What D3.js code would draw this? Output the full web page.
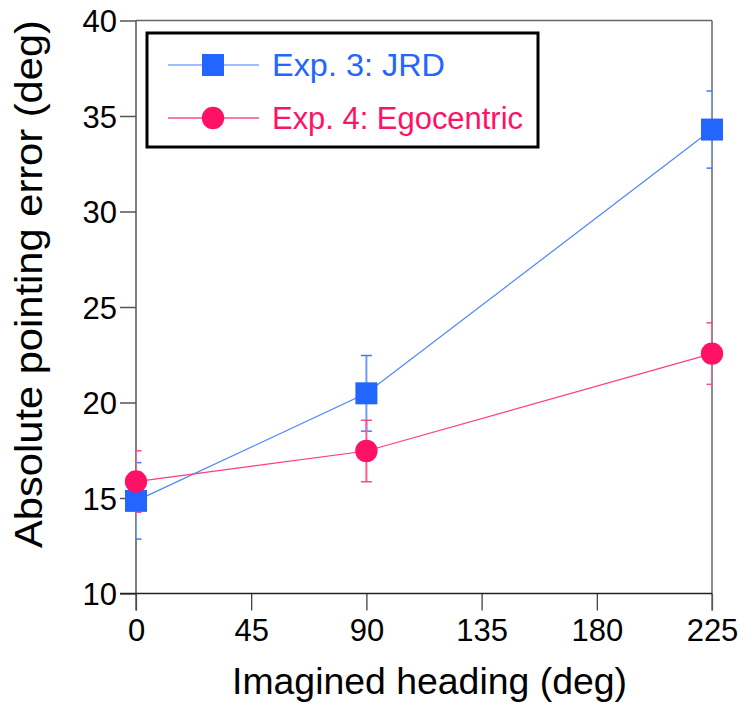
<!DOCTYPE html>
<html><head><meta charset="utf-8">
<script src="https://cdn.jsdelivr.net/npm/d3@7"></script>
<style>body{margin:0;background:#fff}svg{display:block;font-family:"Liberation Sans",Arial,sans-serif}</style>
</head><body><svg id="c" width="746" height="708"></svg>
<script>
const headings = [0, 90, 225];
const jrdMean = [14.85, 20.48, 34.29];
const jrdErr = [2.0, 1.98, 2.02];
const egoMean = [15.86, 17.46, 22.56];
const egoErr = [1.61, 1.61, 1.61];
const xTicks = [0, 45, 90, 135, 180, 225];
const yTicks = [10, 15, 20, 25, 30, 35, 40];
const seriesNames = ["Exp. 3: JRD", "Exp. 4: Egocentric"];

const svg = d3.select("#c");
const L = 136, R = 712, T = 20.5, B = 593.5;
const x = d3.scaleLinear().domain([0, 225]).range([L, R]);
const y = d3.scaleLinear().domain([10, 40]).range([B, T]);

const series = [
  {name: seriesNames[0], mean: jrdMean, err: jrdErr, color: "#2266ff", line: "#4a86ff", ebar: "#6f9dff", cap: "#3f7bff", legLine: "#7fa8ff", shape: "square", tl: 173},
  {name: seriesNames[1], mean: egoMean, err: egoErr, color: "#ff1166", line: "#ff3c80", ebar: "#ff5c95", cap: "#ff4a88", legLine: "#ff4d8a", shape: "circle", tl: 251}
];

svg.append("line").attr("x1", L).attr("x2", R).attr("y1", T).attr("y2", T).attr("stroke", "#666").attr("stroke-width", 1.5);

const yAxis = d3.axisLeft(y).tickValues(yTicks).tickSize(16).tickPadding(3);
const gy = svg.append("g").attr("transform", `translate(${L},0)`).call(yAxis);
gy.select(".domain").remove();
gy.selectAll(".tick line").attr("stroke", "#555").attr("stroke-width", 1.5);
gy.selectAll(".tick text").attr("font-size", 31).attr("fill", "#000").attr("dy", "0.36em");

const xAxis = d3.axisBottom(x).tickValues(xTicks).tickSize(17).tickPadding(8);
const gx = svg.append("g").attr("transform", `translate(0,${B})`).call(xAxis);
gx.select(".domain").remove();
gx.selectAll(".tick line").attr("stroke", "#333").attr("stroke-width", 1.2);
gx.selectAll(".tick text").attr("font-size", 31).attr("fill", "#000").attr("dy", "0.72em");

svg.append("line").attr("x1", L).attr("x2", L).attr("y1", T).attr("y2", B + 17).attr("stroke", "#555").attr("stroke-width", 1.5);
svg.append("line").attr("x1", R).attr("x2", R).attr("y1", T).attr("y2", B + 17).attr("stroke", "#666").attr("stroke-width", 1.5);
svg.append("line").attr("x1", L - 16).attr("x2", R).attr("y1", B).attr("y2", B).attr("stroke", "#222").attr("stroke-width", 1.5);

svg.append("text").attr("x", 429.5).attr("y", 694).attr("text-anchor", "middle")
  .attr("font-size", 37).attr("textLength", 395).attr("lengthAdjust", "spacingAndGlyphs")
  .text("Imagined heading (deg)");
svg.append("text").attr("transform", "translate(42,284) rotate(-90)").attr("text-anchor", "middle")
  .attr("font-size", 38).attr("textLength", 528).attr("lengthAdjust", "spacingAndGlyphs")
  .text("Absolute pointing error (deg)");

svg.append("clipPath").attr("id", "pc").append("rect").attr("x", L).attr("y", 0).attr("width", R - L).attr("height", 708);

const line = d3.line().x(d => x(d[0])).y(d => y(d[1]));
series.forEach(s => {
  const pts = headings.map((h, i) => [h, s.mean[i], s.err[i]]);
  const g = svg.append("g");
  const eg = g.append("g").attr("clip-path", "url(#pc)");
  pts.forEach(p => {
    eg.append("line").attr("x1", x(p[0])).attr("x2", x(p[0])).attr("y1", y(p[1] - p[2])).attr("y2", y(p[1] + p[2]))
      .attr("stroke", s.ebar).attr("stroke-width", 2);
    [p[1] - p[2], p[1] + p[2]].forEach(v => {
      eg.append("line").attr("x1", x(p[0]) - 5.5).attr("x2", x(p[0]) + 5.5).attr("y1", y(v)).attr("y2", y(v))
        .attr("stroke", s.cap).attr("stroke-width", 1.5);
    });
  });
  g.append("path").datum(pts).attr("d", line).attr("fill", "none").attr("stroke", s.line).attr("stroke-width", 1.2);
});
series.forEach(s => {
  const pts = headings.map((h, i) => [h, s.mean[i]]);
  pts.forEach(p => {
    if (s.shape === "square") {
      svg.append("rect").attr("x", x(p[0]) - 11).attr("y", y(p[1]) - 11).attr("width", 22).attr("height", 22).attr("fill", s.color);
    } else {
      svg.append("circle").attr("cx", x(p[0])).attr("cy", y(p[1])).attr("r", 11.2).attr("fill", s.color);
    }
  });
});

const lg = svg.append("g");
lg.append("rect").attr("x", 147).attr("y", 33).attr("width", 391).attr("height", 114)
  .attr("fill", "#fff").attr("stroke", "#000").attr("stroke-width", 3);
series.forEach((s, i) => {
  const cy = 65 + i * 53;
  lg.append("line").attr("x1", 168).attr("x2", 259).attr("y1", cy).attr("y2", cy).attr("stroke", s.legLine).attr("stroke-width", 1.5);
  if (s.shape === "square") {
    lg.append("rect").attr("x", 213 - 11).attr("y", cy - 11).attr("width", 22).attr("height", 22).attr("fill", s.color);
  } else {
    lg.append("circle").attr("cx", 213).attr("cy", cy).attr("r", 11.2).attr("fill", s.color);
  }
  lg.append("text").attr("x", 272).attr("y", cy).attr("dy", "0.36em").attr("font-size", 31)
    .attr("textLength", s.tl).attr("lengthAdjust", "spacingAndGlyphs").attr("fill", s.color).text(s.name);
});
</script></body></html>
